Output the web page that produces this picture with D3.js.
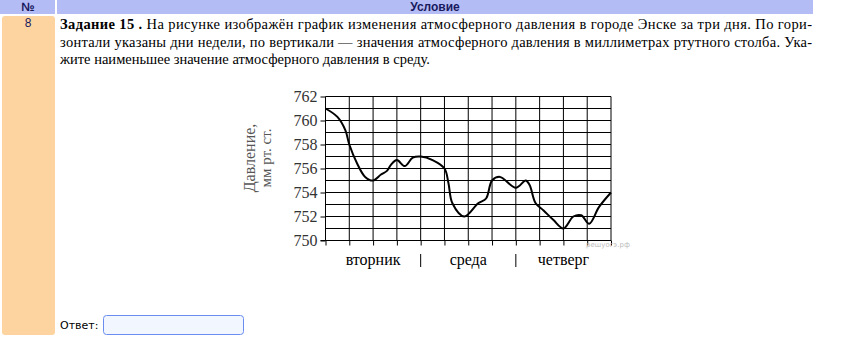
<!DOCTYPE html>
<html>
<head>
<meta charset="utf-8">
<script src="https://cdn.jsdelivr.net/npm/d3@7"></script>
<style>
  body { margin: 0; background: #fff; }
  svg { display: block; }
  .serif { font-family: "Liberation Serif", "DejaVu Serif", "Noto Serif", Tinos, FreeSerif, "Times New Roman", Times, serif; }
</style>
</head>
<body>
<svg id="chart" width="842" height="340"></svg>
<script>
//=================================
//  Data
//=================================
var hours = [0, 3, 5, 6, 8, 10, 12, 14, 15.5, 16.5, 18, 20, 22, 24, 27, 30, 31, 32, 35, 38.5, 40.5, 42, 44, 48, 50.5, 51.5, 53, 55, 57.5, 60, 62.5, 64.5, 66.5, 69, 72];
var pressure = [761, 760.3, 759.2, 758, 756.4, 755.3, 755, 755.5, 755.8, 756.3, 756.7, 756.2, 756.9, 757, 756.7, 756, 754.8, 753.1, 752, 753.1, 753.5, 755, 755.3, 754.4, 755, 754.6, 753.1, 752.5, 751.7, 751, 752, 752.1, 751.4, 752.8, 754];

var yTicks = [750, 752, 754, 756, 758, 760, 762];
var days = ["вторник", "среда", "четверг"];

var textLines = [
  "На рисунке изображён график изменения атмосферного давления в городе Энске за три дня. По гори-",
  "зонтали указаны дни недели, по вертикали — значения атмосферного давления в миллиметрах ртутного столба. Ука-",
  "жите наименьшее значение атмосферного давления в среду."
];

var svg = d3.select("#chart");
var sans = "'Liberation Sans', Arial, sans-serif";

//=================================
//  Page frame (table header etc.)
//=================================
svg.append("rect").attr("x", 0).attr("y", 0).attr("width", 55).attr("height", 14).attr("fill", "#b4bcf6");
svg.append("rect").attr("x", 57).attr("y", 0).attr("width", 756).attr("height", 14).attr("fill", "#b4bcf6");
svg.append("text").attr("x", 28).attr("y", 11).attr("text-anchor", "middle")
  .attr("font-family", sans).attr("font-weight", "bold")
  .attr("font-size", 12).attr("fill", "#1a1a5e").text("№");
svg.append("text").attr("x", 435).attr("y", 11).attr("text-anchor", "middle")
  .attr("font-family", sans).attr("font-weight", "bold")
  .attr("font-size", 12).attr("fill", "#1a1a5e").text("Условие");

//peach number cell
svg.append("rect").attr("x", 2).attr("y", 16).attr("width", 53).attr("height", 319)
  .attr("rx", 3).attr("fill", "#fdd49f");
svg.append("text").attr("x", 28).attr("y", 27).attr("text-anchor", "middle")
  .attr("font-family", sans)
  .attr("font-size", 12).attr("fill", "#1a1a5e").text("8");

//task text, justified lines
textLines.forEach(function(line, i) {
  var t = svg.append("text").attr("class", "serif").attr("x", 60).attr("y", 29 + i * 17.5)
    .attr("font-size", 14.5).attr("fill", "#000");
  if (i == 0) {
    t.append("tspan").attr("font-weight", "bold").text("Задание 15 .");
    t.append("tspan").text(" " + line);
  } else {
    t.text(line);
  }
  if (i < 2) t.attr("textLength", 752).attr("lengthAdjust", "spacing");
});

//=================================
//  Chart
//=================================
var x = d3.scaleLinear().domain([0, 72]).range([325.5, 611]);
var y = d3.scaleLinear().domain([750, 762]).range([240.5, 96.5]);

var g = svg.append("g");

//grid: every 6 hours, every 1 mm
g.selectAll(".vgrid").data(d3.range(6, 73, 6)).enter().append("line")
  .attr("x1", function(d) { return x(d); }).attr("x2", function(d) { return x(d); })
  .attr("y1", y(762)).attr("y2", y(750))
  .attr("stroke", "#000").attr("stroke-width", 1);
g.selectAll(".hgrid").data(d3.range(751, 763, 1)).enter().append("line")
  .attr("x1", x(0)).attr("x2", x(72))
  .attr("y1", function(d) { return y(d); }).attr("y2", function(d) { return y(d); })
  .attr("stroke", "#000").attr("stroke-width", 1);

//left axis
var yAxis = g.append("g").attr("transform", "translate(" + x(0) + ",0)")
  .call(d3.axisLeft(y).tickValues(yTicks).tickSize(5).tickPadding(3).tickFormat(d3.format("d")));
yAxis.attr("font-family", null);
yAxis.select(".domain").attr("d", "M0," + y(762) + "V" + y(750)).attr("stroke", "#000");
yAxis.selectAll("text").attr("class", "serif").attr("font-size", 16).attr("fill", "#333");

//bottom axis
var xAxis = g.append("g").attr("transform", "translate(0," + y(750) + ")")
  .call(d3.axisBottom(x).tickValues(d3.range(0, 73, 6)).tickSize(5).tickFormat(""));
xAxis.select(".domain").attr("d", "M" + (x(0) - 5) + ",0H" + x(72)).attr("stroke", "#000");

//y label
var yl = g.append("text").attr("class", "serif").attr("transform", "translate(255,158) rotate(-90)")
  .attr("text-anchor", "middle").attr("font-size", 16).attr("fill", "#555");
yl.append("tspan").attr("x", 0).attr("dy", 0).text("Давление,");
yl.append("tspan").attr("x", 0).attr("dy", 16).attr("font-size", 15).text("мм рт. ст.");

//day labels and separators
days.forEach(function(d, i) {
  g.append("text").attr("class", "serif").attr("x", x(12 + 24 * i)).attr("y", 265).attr("text-anchor", "middle")
    .attr("font-size", 16).attr("fill", "#000").text(d);
  if (i > 0) {
    g.append("line").attr("x1", x(24 * i)).attr("x2", x(24 * i))
      .attr("y1", 254).attr("y2", 267).attr("stroke", "#000").attr("stroke-width", 1);
  }
});

//watermark
g.append("text").attr("x", 608).attr("y", 247).attr("text-anchor", "middle")
  .attr("font-family", "'DejaVu Sans', sans-serif").attr("font-size", 7).attr("fill", "#bbb").text("решуогэ.рф");

//pressure curve
var line = d3.line()
  .x(function(d, i) { return x(hours[i]); })
  .y(function(d) { return y(d); })
  .curve(d3.curveCatmullRom.alpha(0.5));
g.append("path").datum(pressure).attr("d", line)
  .attr("fill", "none").attr("stroke", "#000").attr("stroke-width", 2);

//=================================
//  Answer field
//=================================
svg.append("text").attr("x", 60).attr("y", 329)
  .attr("font-family", "'DejaVu Sans', Verdana, sans-serif").attr("font-size", 11).attr("fill", "#000").text("Ответ:");
svg.append("rect").attr("x", 103.5).attr("y", 315.5).attr("width", 140).attr("height", 19)
  .attr("rx", 3).attr("fill", "#f2f6ff").attr("stroke", "#6b8cf0").attr("stroke-width", 1);
</script>
</body>
</html>
